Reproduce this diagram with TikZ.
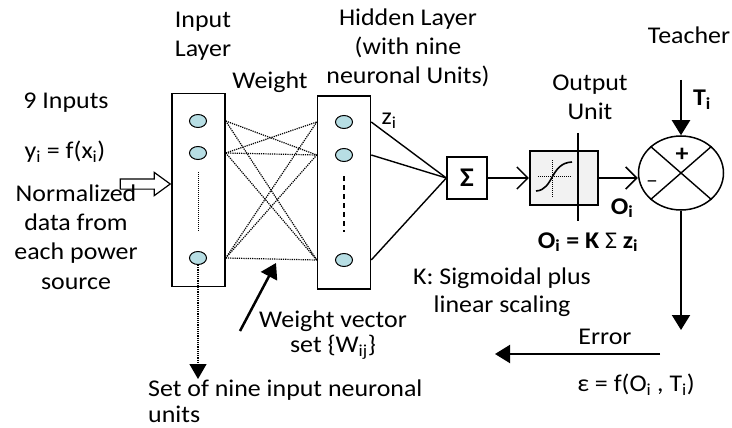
\documentclass[tikz,border=0pt]{standalone}
\usepackage{fontspec}
\setmainfont{Carlito}[FakeStretch=1.08]
\usetikzlibrary{positioning, arrows.meta, shapes.geometric, shapes.arrows}
\definecolor{cneur}{RGB}{183,222,228}
\definecolor{cunit}{gray}{0.95}

\begin{document}
\begin{tikzpicture}[x=1pt, y=-1pt,
    t/.style={font=\fontsize{24}{29}\selectfont, align=center, inner sep=0pt},
    tb/.style={t, font=\fontsize{24}{29}\selectfont\bfseries},
    lay/.style={draw, line width=1.5pt, minimum width=53pt,
                minimum height=193pt, inner sep=0pt},
    neur/.style={ellipse, draw, line width=1pt, fill=cneur,
                 minimum width=17pt, minimum height=13pt, inner sep=0pt},
    wgt/.style={densely dotted, line width=1.2pt},
    syn/.style={line width=1.4pt},
    pl/.style={-{Straight Barb[length=11pt, width=22pt]}, line width=1.5pt},
    fl/.style={-{Triangle[length=15pt, width=18pt]}, line width=2pt}]

  \useasboundingbox (0,0) rectangle (732,428);

  % layers
  \node[lay] (inbox) at (198.5,190) {};
  \node[lay] (hbox) at (344,192.5) {};
  \node[neur] (i1) at (198,121) {};
  \node[neur] (i2) at (198,153) {};
  \node[neur] (i3) at (198,258) {};
  \node[neur] (h1) at (344,122) {};
  \node[neur] (h2) at (344,155) {};
  \node[neur] (h3) at (344,260) {};
  \draw[densely dotted, line width=1pt] (198,172) -- (198,232);
  \draw[dash pattern=on 5pt off 4pt, line width=1.8pt] (344,176) -- (344,232);

  % summation, output unit, comparator
  \node[draw, line width=1.4pt, minimum width=40pt, minimum height=42pt,
        t, font=\fontsize{27}{27}\selectfont\bfseries] (sg) at (467,178) {Σ};
  \node[draw, line width=2.2pt, fill=cunit, minimum width=68pt,
        minimum height=54pt] (out) at (564,178) {};
  \draw[densely dotted, line width=1pt] (552,160) -- (552,197);
  \draw[densely dotted, line width=1pt] (538,176) -- (572,176);
  \draw[line width=1.6pt] (536,191) .. controls (554,190) and (550,163) .. (572,162);
  \draw[syn] (578,133) -- (578,221);
  \node[ellipse, draw, line width=1.5pt, minimum width=85pt,
        minimum height=74pt] (cmp) at (681,173) {};
  \draw[syn] (cmp.north west) -- (cmp.south east);
  \draw[syn] (cmp.north east) -- (cmp.south west);
  \node[inner sep=0pt, font=\fontsize{24}{24}\selectfont\bfseries] (plus) at (682,155) {+};
  \node[inner sep=0pt, font=\fontsize{22}{22}\selectfont] (minus) at (652,184) {–};

  % input arrow
  \node[single arrow, draw, fill=white, line width=1.2pt, minimum height=50pt,
        inner sep=4.5pt, single arrow head extend=6.5pt,
        single arrow tip angle=72, anchor=tip] (inarr) at (inbox.west |- 0,184) {};

  % weights
  \foreach \a/\b in {i1/h2, i1/h3, i2/h1, i2/h2, i2/h3, i3/h1, i3/h2, i3/h3}
    \draw[wgt] (inbox.east |- \a) -- (hbox.west |- \b);
  \foreach \h in {h1,h2,h3}
    \draw[syn] (hbox.east |- \h) -- (sg.west);

  \draw[pl] (sg) -- (out);
  \draw[pl] (out.east) -- (out.east -| cmp.west);

  \coordinate (tin) at (681,80);
  \coordinate (edn) at (681,330);
  \coordinate (eR) at (660,354);
  \coordinate (eL) at (495,354);
  \coordinate (wvt) at (240,331);
  \coordinate (wvh) at (276,263);
  \coordinate (sn) at (198,379);
  \draw[fl] (tin) -- (cmp.north);
  \draw[fl] (cmp.south) -- (edn);
  \draw[fl] (eR) -- (eL);
  \draw[fl, line width=2.5pt] (wvt) -- (wvh);
  \draw[wgt, -{Triangle[length=15pt, width=17pt]}] (i3.south) -- (sn);

  % labels
  \node[t] (inl) at (203,36) {Input\\Layer};
  \node[t] (wl) at (270,82) {Weight};
  \node[t] (hl) at (408,48) {Hidden Layer\\(with nine\\neuronal Units)};
  \node[t] (ninp) at (66,103) {9 Inputs};
  \node[t] (yf) at (65,152) {y\textsubscript{i} = f(x\textsubscript{i})};
  \node[t, font=\fontsize{24}{29.3}\selectfont] (nd) at (76,237)
    {Normalized\\data from\\each power\\source};
  \node[t] (zl) at (389,121) {z\textsubscript{i}};
  \node[t] (oul) at (590,97) {Output\\Unit};
  \node[t] (tch) at (689,35) {Teacher};
  \node[tb] (tl) at (702,100) {T\textsubscript{i}};
  \node[tb] (ol) at (622,208) {O\textsubscript{i}};
  \node[tb] (oeq) at (588,242)
    {O\textsubscript{i} = K {\mdseries Σ} z\textsubscript{i}};
  \node[t, font=\fontsize{24}{28}\selectfont] (kl) at (502,292)
    {K: Sigmoidal plus\\linear scaling};
  \node[t] (el) at (605,337) {Error};
  \node[t] (eps) at (636,385)
    {ε = f(O\textsubscript{i} , T\textsubscript{i})};
  \node[t, font=\fontsize{24}{25}\selectfont] (wvl) at (333,335)
    {Weight vector\\set \{W\textsubscript{ij}\}};
  \node[t, font=\fontsize{24}{26}\selectfont, align=left, anchor=west] (setl)
    at (148,401) {Set of nine input neuronal\\units};
\end{tikzpicture}
\end{document}
